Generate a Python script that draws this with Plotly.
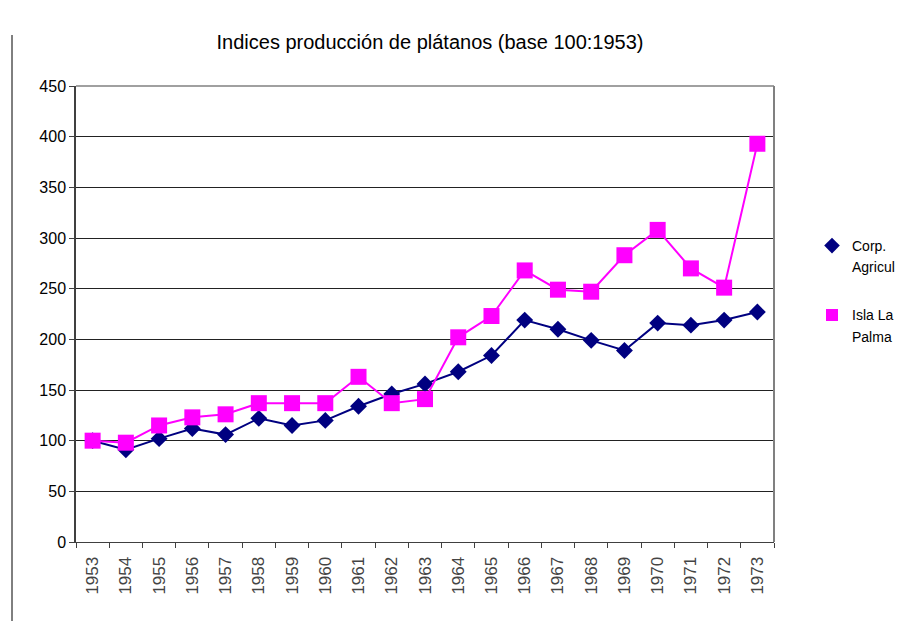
import plotly.graph_objects as go

years = [str(y) for y in range(1953, 1974)]
corp_agricul = [100, 91, 102, 112, 106, 122, 115, 120, 134, 146, 156, 168, 184, 219, 210, 199, 189, 216, 214, 219, 227]
isla_la_palma = [100, 98, 115, 123, 126, 137, 137, 137, 163, 137, 141, 202, 223, 268, 249, 247, 283, 308, 270, 251, 393]
y_ticks = list(range(0, 451, 50))

FONT = "Liberation Sans, Arial, sans-serif"
NAVY = "#000080"
MAGENTA = "#FF00FF"
CLEAR = "rgba(0,0,0,0)"

# page body has an 8px margin: figure is 912x613 placed at (8,8)
L, T, R, B = 68, 78, 146, 79
W, H = 912, 613
PW, PH = W - L - R, H - T - B

fig = go.Figure()
fig.add_trace(go.Scatter(
    x=years, y=corp_agricul, name="Corp. Agricul", mode="lines+markers",
    line=dict(color=NAVY, width=2),
    marker=dict(symbol="diamond", size=13, color=NAVY), showlegend=False,
))
fig.add_trace(go.Scatter(
    x=years, y=isla_la_palma, name="Isla La Palma", mode="lines+markers",
    line=dict(color=MAGENTA, width=2),
    marker=dict(symbol="square", size=16, color=MAGENTA), showlegend=False,
))
# legend entries (marker only, name split over two lines)
legend_rows = [
    ("a", "Corp.", "diamond", NAVY),
    ("a", "Agricul", "diamond", CLEAR),
    ("b", "Isla La", "square", MAGENTA),
    ("b", "Palma", "square", CLEAR),
]
for grp, label, sym, col in legend_rows:
    fig.add_trace(go.Scatter(x=[None], y=[None], name=label, mode="markers", legendgroup=grp,
                             marker=dict(symbol=sym, size=9, color=col)))

fig.update_layout(
    width=W, height=H,
    margin=dict(l=L, r=R, t=T, b=B),
    paper_bgcolor="white", plot_bgcolor="white",
    font=dict(family=FONT, color="black"),
    title=dict(text="Indices producción de plátanos (base 100:1953)",
               x=422 / W, xanchor="center", y=1 - 34 / H, yanchor="middle",
               font=dict(size=20, family=FONT, color="black")),
    showlegend=True,
    legend=dict(x=(812 - 76) / PW, y=(542 - 291) / PH, xanchor="left", yanchor="middle",
                font=dict(size=14, family=FONT, color="black"),
                bgcolor=CLEAR, tracegroupgap=27, itemsizing="constant",
                itemclick=False, itemdoubleclick=False),
    xaxis=dict(type="category", showgrid=False, showline=True, linecolor="#404040", linewidth=1,
               ticks="outside", ticklen=5, tickcolor="#404040", tickson="boundaries",
               tickangle=-90, tickfont=dict(size=17, family=FONT, color="#444444"),
               ticklabelstandoff=7, range=[-0.5, 20.5], mirror=False),
    yaxis=dict(range=[0, 450], tickvals=y_ticks, showgrid=True, gridcolor="#222222", gridwidth=1,
               showline=True, linecolor="#404040", linewidth=1.5, ticks="outside", ticklen=5,
               tickcolor="#404040", tickfont=dict(size=16, family=FONT, color="black"),
               zeroline=False),
    shapes=[
        dict(type="line", xref="paper", yref="paper", x0=1, x1=1, y0=0, y1=1,
             line=dict(color="#808080", width=2)),
        dict(type="line", xref="paper", yref="paper", x0=0, x1=1, y0=1, y1=1,
             line=dict(color="#808080", width=1.5)),
        dict(type="line", xref="paper", yref="paper", x0=(12 - 76) / PW, x1=(12 - 76) / PW,
             y0=(542 - 35) / PH, y1=(542 - 621) / PH, line=dict(color="black", width=1)),
    ],
)

fig.write_html("out.html")
